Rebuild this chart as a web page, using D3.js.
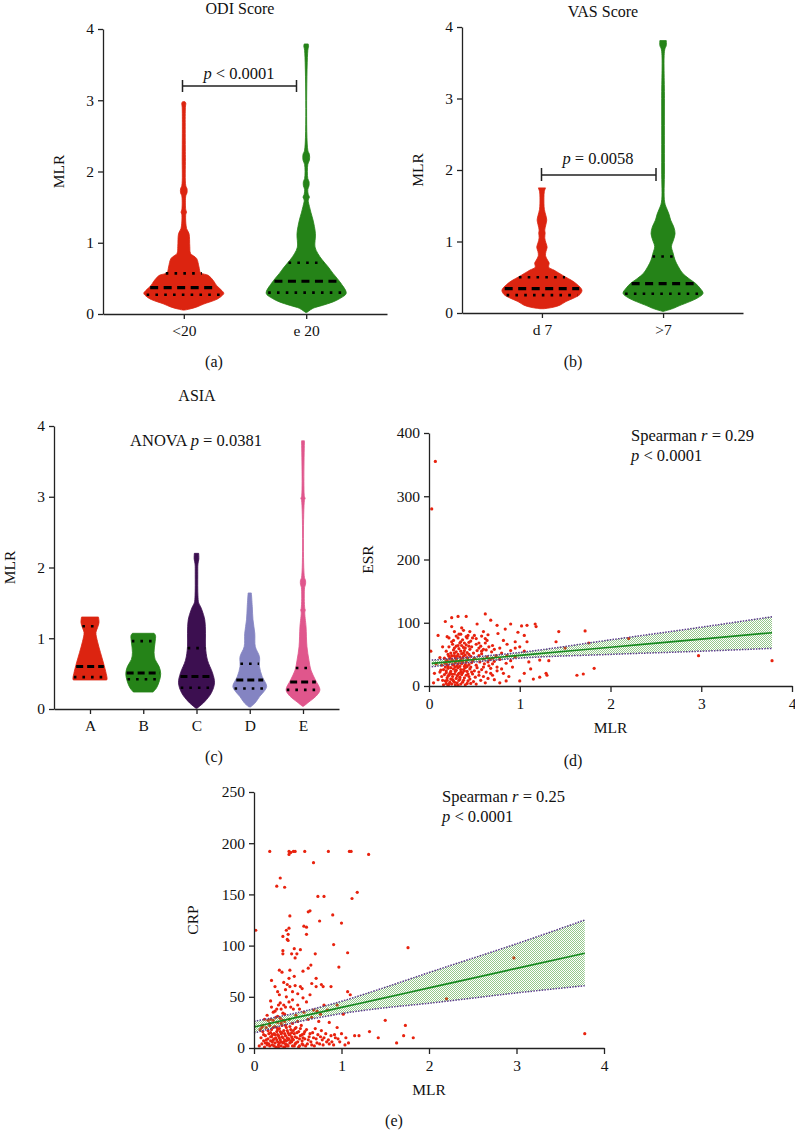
<!DOCTYPE html>
<html><head><meta charset="utf-8">
<script src="https://cdn.jsdelivr.net/npm/d3@7"></script>
<style>
body{margin:0;background:#fff}
svg{display:block}
text{font-family:"Liberation Serif","Times New Roman",serif;fill:#111}
</style>
</head><body>
<svg id="chart" width="795" height="1130"></svg>
<script>
// ---------------- DATA ----------------
const odiCategories = ["<20", "e 20"];
const vasCategories = ["d 7", ">7"];
const asiaCategories = ["A", "B", "C", "D", "E"];
const mlrTicks = [0, 1, 2, 3, 4];
const esrTicks = [0, 100, 200, 300, 400];
const crpTicks = [0, 50, 100, 150, 200, 250];

// violin profiles: [MLR, relative density]
const odiLowProfile = [[2.98,0.03],[2.96,0.05],[2.90,0.04],[2.2,0.04],[1.80,0.05],[1.76,0.08],[1.70,0.08],[1.66,0.05],[1.46,0.05],[1.43,0.07],[1.40,0.05],[1.20,0.07],[1.13,0.13],[0.95,0.15],[0.85,0.17],[0.78,0.32],[0.66,0.38],[0.58,0.42],[0.54,0.62],[0.46,0.75],[0.40,0.82],[0.33,0.95],[0.29,1.0],[0.24,0.92],[0.20,0.80],[0.14,0.50],[0.10,0.33],[0.07,0.15],[0.055,0.02]];
const odiHighProfile = [[3.79,0.05],[3.76,0.06],[3.70,0.04],[2.30,0.04],[2.24,0.08],[2.16,0.08],[2.10,0.04],[1.90,0.04],[1.86,0.07],[1.80,0.07],[1.75,0.04],[1.68,0.05],[1.64,0.08],[1.60,0.05],[1.51,0.08],[1.42,0.12],[1.32,0.17],[1.13,0.23],[0.94,0.22],[0.85,0.29],[0.76,0.40],[0.66,0.55],[0.57,0.67],[0.43,0.87],[0.29,1.0],[0.22,0.85],[0.17,0.67],[0.12,0.40],[0.08,0.17],[0.04,0.06],[0.02,0.01]];
const vasLowProfile = [[1.75,0.09],[1.70,0.06],[1.62,0.05],[1.45,0.06],[1.36,0.10],[1.30,0.12],[1.24,0.10],[1.16,0.07],[1.12,0.08],[1.05,0.07],[0.98,0.10],[0.92,0.13],[0.86,0.10],[0.80,0.09],[0.74,0.14],[0.70,0.18],[0.64,0.17],[0.60,0.30],[0.56,0.42],[0.50,0.60],[0.46,0.73],[0.40,0.88],[0.32,1.0],[0.26,0.95],[0.21,0.80],[0.16,0.60],[0.11,0.45],[0.08,0.28],[0.06,0.05]];
const vasHighProfile = [[3.81,0.08],[3.74,0.08],[3.68,0.04],[3.0,0.035],[2.0,0.035],[1.55,0.04],[1.45,0.10],[1.38,0.15],[1.30,0.19],[1.20,0.27],[1.11,0.30],[1.02,0.26],[0.93,0.21],[0.84,0.25],[0.74,0.30],[0.65,0.38],[0.555,0.49],[0.48,0.65],[0.415,0.81],[0.35,0.92],[0.275,1.0],[0.21,0.86],[0.16,0.67],[0.10,0.40],[0.065,0.26],[0.03,0.06],[0.02,0.0]];
const asiaAProfile = [[1.30,0.47],[1.22,0.50],[1.15,0.42],[1.08,0.33],[0.95,0.42],[0.80,0.58],[0.65,0.75],[0.50,0.90],[0.43,0.95],[0.41,0.93]];
const asiaBProfile = [[1.07,0.60],[1.04,0.68],[0.95,0.66],[0.80,0.60],[0.70,0.66],[0.60,0.88],[0.50,0.97],[0.40,0.90],[0.30,0.74],[0.24,0.55]];
const asiaCProfile = [[2.20,0.12],[2.12,0.13],[2.05,0.08],[1.90,0.07],[1.60,0.08],[1.50,0.12],[1.45,0.22],[1.40,0.30],[1.26,0.46],[1.07,0.50],[0.88,0.50],[0.69,0.61],[0.51,0.89],[0.37,1.0],[0.23,0.83],[0.10,0.44],[0.01,0.03]];
const asiaDProfile = [[1.64,0.09],[1.45,0.14],[1.26,0.18],[1.07,0.28],[0.88,0.31],[0.74,0.54],[0.60,0.54],[0.46,0.69],[0.32,0.94],[0.25,0.80],[0.18,0.56],[0.08,0.28],[0.03,0.05]];
const asiaEProfile = [[3.79,0.08],[3.00,0.08],[2.98,0.12],[2.95,0.08],[1.86,0.08],[1.82,0.14],[1.76,0.14],[1.72,0.09],[1.42,0.10],[1.40,0.13],[1.37,0.10],[1.16,0.17],[0.88,0.22],[0.69,0.33],[0.55,0.44],[0.41,0.69],[0.27,0.94],[0.18,0.72],[0.10,0.33],[0.04,0.04]];

// quartiles [Q1, median, Q3]
const odiQuartiles = [[0.27,0.37,0.57],[0.30,0.46,0.72]];
const vasQuartiles = [[0.25,0.34,0.50],[0.27,0.41,0.79]];
const asiaQuartiles = [[0.45,0.60,1.17],[0.42,0.51,0.96],[0.30,0.46,0.86],[0.29,0.41,0.64],[0.27,0.38,0.58]];

// scatter: [MLR, ESR]
const esrPoints = [[0.07,355],[0.03,280],[0.02,55],[0.10,80],[0.18,102],[0.25,108],[0.32,110],[0.41,110],[0.62,114],[0.68,104],[0.53,98],[0.75,96],[0.90,98],[1.02,95],[1.08,96],[1.17,98],[1.18,94],[1.43,86],[1.72,87],[1.82,28],[1.70,19],[1.63,17],[1.30,17],[1.29,20],[1.22,14],[1.15,11],[1.22,41],[1.40,70],[1.08,70],[0.84,90],[0.76,83],[0.60,86],[0.65,81],[0.25,94],[0.36,92],[1.76,68],[2.20,75],[1.50,60],[2.97,48],[3.78,40],[1.32,40],
[0.98,85],[1.00,62],[1.05,55],[0.95,46],[0.92,30],[0.88,15],[0.85,8],[0.78,5],[0.72,10],[0.68,20],[1.05,20],[1.10,38],[1.12,27],[1.00,8],[0.95,70],[0.90,56],[0.82,72],[0.78,60],[0.74,48],[0.70,35],[0.66,62],[0.62,75],[0.58,55],[0.55,68],[0.50,80],[0.45,86],[0.42,76],[0.38,88],[0.33,82],[0.28,86],[0.22,76],[0.15,62],[0.12,45],[0.08,35],[0.06,20],[0.05,5],[0.10,10],[0.13,25],
[0.16,2],[0.19,4],[0.21,1],[0.23,6],[0.25,3],[0.27,8],[0.29,2],[0.31,5],[0.33,9],[0.35,3],[0.37,6],[0.40,2],[0.43,8],[0.46,4],[0.49,7],[0.52,3],[0.57,9],[0.62,5],[0.20,9],[0.24,11],[0.30,12],
[0.14,15],[0.17,18],[0.20,13],[0.22,17],[0.26,15],[0.28,19],[0.31,16],[0.34,14],[0.36,18],[0.39,13],[0.41,17],[0.44,15],[0.48,19],[0.51,14],[0.55,17],[0.60,15],[0.65,12],[0.23,20],[0.33,20],
[0.12,22],[0.16,26],[0.19,24],[0.21,28],[0.24,23],[0.27,27],[0.30,25],[0.32,29],[0.35,22],[0.38,26],[0.40,29],[0.42,23],[0.45,27],[0.50,24],[0.53,29],[0.58,26],[0.63,22],[0.68,28],[0.75,24],[0.80,27],
[0.14,33],[0.18,36],[0.21,31],[0.23,38],[0.26,34],[0.29,37],[0.31,32],[0.33,39],[0.36,35],[0.39,31],[0.41,38],[0.44,34],[0.47,37],[0.52,33],[0.56,38],[0.61,35],[0.66,32],[0.72,39],[0.85,36],
[0.17,44],[0.20,41],[0.22,47],[0.25,43],[0.28,48],[0.30,42],[0.34,46],[0.37,44],[0.40,49],[0.43,42],[0.46,47],[0.50,44],[0.55,48],[0.60,43],[0.64,46],[0.70,44],[0.78,42],[0.86,48],
[0.19,55],[0.24,52],[0.27,57],[0.30,54],[0.33,59],[0.36,51],[0.39,56],[0.42,53],[0.45,58],[0.49,52],[0.53,56],[0.58,51],[0.63,57],[0.69,54],[0.80,52],[0.72,58],
[0.22,62],[0.26,66],[0.30,63],[0.34,68],[0.38,61],[0.41,65],[0.44,69],[0.47,62],[0.52,66],[0.57,63],[0.62,68],[0.70,64],[0.86,66],
[0.27,72],[0.32,76],[0.37,73],[0.41,78],[0.46,71],[0.52,75],[0.58,79],[0.64,72],[0.20,78],
[0.18,8],[0.22,3],[0.26,10],[0.28,6],[0.32,1],[0.34,11],[0.38,9],[0.42,4],[0.45,11],[0.15,9],[0.19,21],[0.21,16],[0.25,19],[0.29,23],[0.32,18],[0.35,26],[0.37,21],[0.39,24],[0.43,19],[0.47,22],[0.18,30],[0.20,34],[0.24,29],[0.27,33],[0.29,30],[0.32,35],[0.34,31],[0.37,38],[0.40,34],[0.42,31],[0.46,30],[0.19,39],[0.23,44],[0.26,40],[0.29,45],[0.31,47],[0.35,41],[0.38,47],[0.42,45],[0.48,40],[0.21,50],[0.25,48],[0.28,52],[0.32,50],[0.35,55],[0.38,52],[0.44,50],[0.28,60],[0.32,64],[0.36,64],[0.40,60],[0.44,63],[0.25,70],[0.35,70],[0.39,68],[0.30,79],[0.35,82],[0.43,80],[0.48,76],[0.55,60],[0.60,58],[0.67,42],[0.65,38],[0.55,22],[0.60,30],[0.70,17],[0.75,30],[0.82,20],[0.90,40],[0.95,60],[1.05,80]];

// scatter: [MLR, CRP]
const crpPoints = [[0.18,192],[0.40,192],[0.42,191],[0.45,192],[0.47,192],[0.40,189],[0.58,192],[0.85,192],[1.09,192],[1.11,192],[1.31,189],[0.68,181],[0.30,166],[0.26,158],[0.35,157],[1.18,152],[1.12,146],[0.73,148],[0.80,148],[0.64,134],[0.62,133],[0.02,115],[0.41,129],[0.90,130],[0.75,124],[1.00,122],[0.57,119],[0.60,118],[0.40,117],[0.37,115],[0.39,111],[0.33,109],[0.38,106],[0.60,111],[0.39,105],[0.91,101],[1.76,98],[0.46,97],[0.53,96],[0.33,95],[0.43,92],[0.49,92],[1.07,93],[0.70,92],[0.33,92],[0.47,88],[0.65,81],[0.62,78],[0.97,79],[0.29,76],[0.41,76],[0.32,74],[0.56,75],[0.40,68],[0.46,70],[0.71,68],[0.20,66],[0.38,62],[0.41,60],[0.47,61],[0.53,60],[0.66,63],[0.71,60],[0.77,62],[0.88,60],[0.79,60],[0.29,52],[0.19,46],[2.97,88],[2.20,48],[1.07,55],[1.10,52],[0.95,42],[1.02,33],[1.50,27],[1.73,22],[1.71,12],[1.82,10],[1.63,5],[1.42,10],[1.32,16],[1.20,12],[1.15,12],[1.05,10],[3.78,14],
[0.30,44],[0.34,42],[0.37,50],[0.44,47],[0.50,53],[0.56,49],[0.60,45],[0.64,52],[0.68,37],[0.72,36],[0.76,33],[0.80,42],[0.84,37],[0.26,38],[0.22,35],[0.42,40],[0.52,38],[0.57,35],[0.66,30],[0.35,33],[0.15,32],[0.12,28],[0.27,31],[0.48,32],[0.62,28],[0.74,26],[0.86,25],[0.95,20],[0.92,13],[0.98,6],[1.08,5],[0.78,8],[0.86,4],
[0.06,2],[0.08,10],[0.09,4],[0.10,16],[0.11,7],[0.12,1],[0.13,12],[0.14,20],[0.15,5],[0.16,9],[0.17,14],[0.18,2],[0.18,24],[0.19,7],[0.20,11],[0.20,18],[0.21,3],[0.22,8],[0.22,27],[0.23,14],[0.24,5],[0.24,21],[0.25,10],[0.25,1],[0.26,16],[0.27,6],[0.27,25],[0.28,12],[0.28,3],[0.29,19],[0.30,8],[0.30,29],[0.31,14],[0.31,2],[0.32,22],[0.33,10],[0.33,5],[0.34,17],[0.35,1],[0.35,26],[0.36,12],[0.37,7],[0.37,20],[0.38,3],[0.39,15],[0.40,9],[0.40,28],[0.41,5],[0.42,18],[0.43,11],[0.44,2],[0.44,24],[0.45,8],[0.46,14],[0.47,4],[0.48,20],[0.49,10],[0.50,6],[0.51,16],[0.52,2],[0.53,12],[0.54,22],[0.55,7],[0.56,3],[0.57,14],[0.58,9],[0.60,18],[0.61,4],[0.63,11],[0.65,6],[0.67,15],[0.69,2],[0.71,9],[0.73,13],[0.75,4],[0.77,17],[0.80,10],[0.83,6],[0.88,12],[0.91,3],[0.96,9],[1.00,14],[1.04,3],[0.15,3],[0.19,15],[0.23,9],[0.27,13],[0.31,24],[0.35,8],[0.39,2],[0.43,6],[0.47,11],[0.51,1],[0.55,13],[0.21,13],[0.26,20],[0.32,15],[0.38,10],[0.45,17],[0.29,5],[0.34,1],[0.36,4],[0.41,13],[0.25,30],[0.33,34],[0.19,28],[0.10,22],[0.07,18],
[0.14,8],[0.16,17],[0.17,4],[0.19,11],[0.21,6],[0.22,20],[0.23,2],[0.24,13],[0.26,8],[0.27,18],[0.28,1],[0.29,10],[0.30,16],[0.31,6],[0.32,11],[0.33,27],[0.34,6],[0.35,14],[0.36,22],[0.37,2],[0.38,17],[0.39,8],[0.40,13],[0.41,21],[0.42,7],[0.43,15],[0.44,9],[0.46,2],[0.47,19],[0.48,5],[0.49,15],[0.50,26],[0.52,9],[0.53,19],[0.55,4],[0.56,10],[0.58,16],[0.59,2],[0.62,8],[0.64,14],[0.66,3],[0.68,10],[0.70,19],[0.72,5],[0.76,11],[0.79,3],[0.82,14],[0.85,8],[0.89,6],[0.93,10],[0.20,40],[0.24,36],[0.28,42],[0.31,38],[0.36,40],[0.40,45],[0.45,38],[0.50,42],[0.27,55],[0.36,57],[0.44,55],[0.55,58],[0.24,60],[0.34,64],[0.18,22],[0.16,27],[0.13,5],[0.11,13],[0.09,20]];

// regression fits and 95% bands: [MLR, fit, lower, upper]
const esrFit = [[0.03,35.8,30.5,41],[0.5,41.9,38,46],[1,48.4,44,53],[2,61.3,50,73],[3,74.2,55,93],[3.78,84.2,59.5,109.5]];
const crpFit = [[0,20.5,14.6,26],[0.45,29.1,24.6,33.6],[1,39.6,33.6,45.6],[1.44,48,38.7,57.6],[2,58.7,43.7,73.7],[3,77.8,53.8,101.8],[3.78,92.5,60.8,125]];

// ---------------- DRAWING ----------------
const svg = d3.select("#chart");
const FONT = '"Liberation Serif","Times New Roman",serif';
const defs = svg.append("defs");
const pat = defs.append("pattern").attr("id","chk").attr("width",2).attr("height",2).attr("patternUnits","userSpaceOnUse");
pat.append("rect").attr("width",1).attr("height",1).attr("fill","#4fa33e");
pat.append("rect").attr("x",1).attr("y",1).attr("width",1).attr("height",1).attr("fill","#4fa33e");

function styleAxis(g){
  g.attr("font-family", FONT).attr("font-size", 15.5);
  g.selectAll("path,line").attr("stroke","#222").attr("stroke-width",1.3);
  g.selectAll("text").attr("fill","#111");
}

function addText(x, y, parts, opts={}){
  const t = svg.append("text").attr("x",x).attr("y",y).attr("font-size",opts.size||15)
    .attr("text-anchor",opts.anchor||"middle");
  parts.forEach(p=>{
    const s = t.append("tspan").text(p[0]);
    if(p[1]) s.attr("font-style","italic");
  });
  return t;
}
function addVLabel(x, y, txt){
  svg.append("text").attr("transform",`translate(${x},${y}) rotate(-90)`)
    .attr("text-anchor","middle").attr("font-size",15.5).text(txt);
}

function densityAt(profile, v){
  for(let i=0;i<profile.length-1;i++){
    const a=profile[i], b=profile[i+1];
    if(v<=a[0] && v>=b[0]){ const t=(a[0]-v)/(a[0]-b[0]); return a[1]+(b[1]-a[1])*t; }
  }
  return 0;
}

function violinPanel(o){
  const y = d3.scaleLinear().domain([0,4]).range([o.yb, o.yt]);
  const x = d3.scalePoint().domain(o.cats).range([o.xl, o.xr]).padding(o.pad);
  const g = svg.append("g");
  o.profiles.forEach((prof,i)=>{
    const cx = x(o.cats[i]);
    const area = d3.area().curve(d3.curveCatmullRom.alpha(0.5))
      .y(d=>y(d[0])).x0(d=>cx-o.w*d[1]).x1(d=>cx+o.w*d[1]);
    g.append("path").attr("d",area(prof)).attr("fill",o.colors[i]).attr("stroke",o.colors[i]).attr("stroke-width",0.8);
    const q = o.quart[i];
    [0,1,2].forEach(k=>{
      const v=q[k]; const hw=o.w*densityAt(prof,v)*0.96;
      g.append("line").attr("x1",cx-hw).attr("x2",cx+hw).attr("y1",y(v)).attr("y2",y(v))
        .attr("stroke","#000")
        .attr("stroke-width", k===1?o.mw:o.dw)
        .attr("stroke-dasharray", k===1?o.mdash:o.ddash);
    });
  });
  const ay = svg.append("g").attr("transform",`translate(${o.xl},0)`)
    .call(d3.axisLeft(y).tickValues(mlrTicks).tickFormat(d3.format("d")).tickSize(5).tickSizeOuter(0).tickPadding(4));
  styleAxis(ay);
  const ax = svg.append("g").attr("transform",`translate(0,${o.yb})`)
    .call(d3.axisBottom(x).tickSize(5).tickSizeOuter(0).tickPadding(6));
  styleAxis(ax);
  addVLabel(o.xl-39, (o.yb+o.yt)/2, "MLR");
  return {x,y};
}

function scatterPanel(o){
  const x = d3.scaleLinear().domain([0,4]).range([o.xl, o.xr]);
  const y = d3.scaleLinear().domain([0,o.ymax]).range([o.yb, o.yt]);
  const g = svg.append("g");
  g.selectAll("circle").data(o.points).join("circle")
    .attr("cx",d=>x(d[0])).attr("cy",d=>y(d[1])).attr("r",1.6).attr("fill","#e8220e");
  const band = d3.area().curve(d3.curveMonotoneX).x(d=>x(d[0])).y0(d=>y(d[2])).y1(d=>y(d[3]));
  g.append("path").attr("d",band(o.fit)).attr("fill","url(#chk)").attr("opacity",0.6);
  const lo = d3.line().curve(d3.curveMonotoneX).x(d=>x(d[0])).y(d=>y(d[2]));
  const hi = d3.line().curve(d3.curveMonotoneX).x(d=>x(d[0])).y(d=>y(d[3]));
  [lo,hi].forEach(l=>g.append("path").attr("d",l(o.fit)).attr("fill","none")
    .attr("stroke","#5b3a8c").attr("stroke-width",1.5).attr("stroke-dasharray","1.5,1.3"));
  const fl = d3.line().curve(d3.curveMonotoneX).x(d=>x(d[0])).y(d=>y(d[1]));
  g.append("path").attr("d",fl(o.fit)).attr("fill","none").attr("stroke","#17891f").attr("stroke-width",1.7);
  const ay = svg.append("g").attr("transform",`translate(${o.xl},0)`)
    .call(d3.axisLeft(y).tickValues(o.ticks).tickFormat(d3.format("d")).tickSize(5).tickSizeOuter(0).tickPadding(4));
  styleAxis(ay);
  const ax = svg.append("g").attr("transform",`translate(0,${o.yb})`)
    .call(d3.axisBottom(x).tickValues(mlrTicks).tickFormat(d3.format("d")).tickSize(6).tickSizeOuter(0).tickPadding(6));
  styleAxis(ax);
  addVLabel(o.xl-56, (o.yb+o.yt)/2, o.ylabel);
  addText((o.xl+o.xr)/2, o.yb+47, [["MLR"]], {size:15.5});
}

const ANN = 16.5, TTL = 16;

// (a)
violinPanel({cats:odiCategories, profiles:[odiLowProfile,odiHighProfile], quart:odiQuartiles,
  colors:["#dc2410","#258318"], xl:103, xr:387, pad:0.66, yb:314, yt:29, w:40,
  mw:3.2, mdash:"8,5.5", dw:2.6, ddash:"2.6,6.2"});
addText(240, 14, [["ODI Score"]], {size:TTL});
svg.append("path").attr("d","M182.5,80V92M182.5,86H296.5M296.5,80V92").attr("stroke","#222").attr("stroke-width",1.5).attr("fill","none");
addText(239, 79, [["p",true],[" < 0.0001"]], {size:ANN});
addText(214, 367, [["(a)"]], {size:TTL});

// (b)
violinPanel({cats:vasCategories, profiles:[vasLowProfile,vasHighProfile], quart:vasQuartiles,
  colors:["#dc2410","#258318"], xl:462, xr:743, pad:0.66, yb:313, yt:27, w:40,
  mw:3.2, mdash:"8,5.5", dw:2.6, ddash:"2.6,6.2"});
addText(603, 17, [["VAS Score"]], {size:TTL});
svg.append("path").attr("d","M541.5,168V181M541.5,175H656M656,168V181").attr("stroke","#222").attr("stroke-width",1.5).attr("fill","none");
addText(598, 164, [["p",true],[" = 0.0058"]], {size:ANN});
addText(573, 367, [["(b)"]], {size:TTL});

// (c)
violinPanel({cats:asiaCategories, profiles:[asiaAProfile,asiaBProfile,asiaCProfile,asiaDProfile,asiaEProfile], quart:asiaQuartiles,
  colors:["#dc2410","#258318","#3c0f50","#8484c2","#e0568c"], xl:54, xr:339, pad:0.676, yb:709, yt:426, w:18,
  mw:3, mdash:"7,4", dw:2.6, ddash:"2.6,6"});
addText(197, 401, [["ASIA"]], {size:TTL});
addText(196, 446, [["ANOVA "],["p",true],[" = 0.0381"]], {size:ANN});
addText(214, 762, [["(c)"]], {size:TTL});

// (d)
scatterPanel({points:esrPoints, fit:esrFit, xl:429, xr:792, yb:686, yt:433, ymax:400, ticks:esrTicks, ylabel:"ESR"});
addText(631, 441, [["Spearman "],["r",true],[" = 0.29"]], {anchor:"start", size:ANN});
addText(631, 461, [["p",true],[" < 0.0001"]], {anchor:"start", size:ANN});
addText(573, 766, [["(d)"]], {size:TTL});

// (e)
scatterPanel({points:crpPoints, fit:crpFit, xl:254, xr:604, yb:1048, yt:792, ymax:250, ticks:crpTicks, ylabel:"CRP"});
addText(442, 802, [["Spearman "],["r",true],[" = 0.25"]], {anchor:"start", size:ANN});
addText(442, 822, [["p",true],[" < 0.0001"]], {anchor:"start", size:ANN});
addText(394, 1126, [["(e)"]], {size:TTL});
</script>
</body></html>
